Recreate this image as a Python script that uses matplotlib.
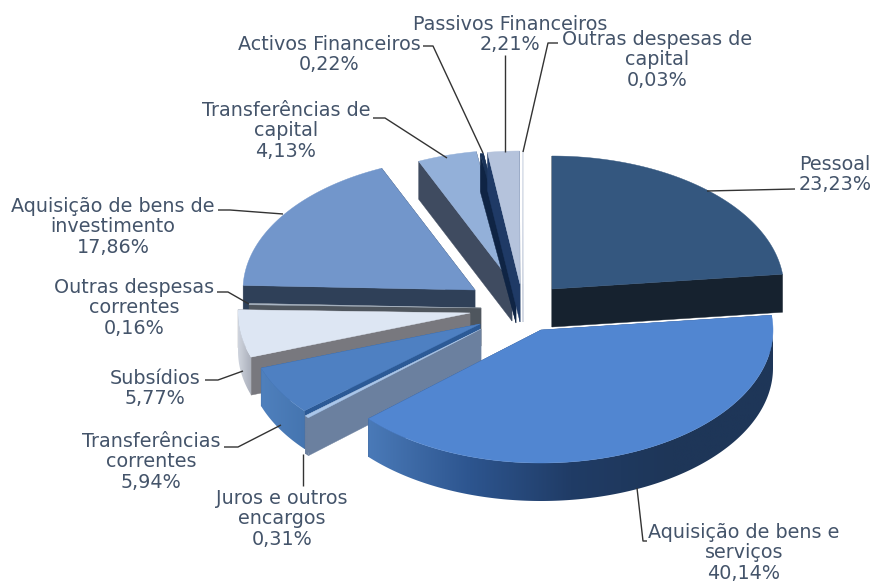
import matplotlib
matplotlib.use('Agg')
import matplotlib.pyplot as plt
import numpy as np
from matplotlib.colors import LinearSegmentedColormap
from matplotlib.patches import Polygon

# Data, in the order of the pie (clockwise from the top)
names = ['Pessoal', 'Aquisição de bens e\nserviços', 'Juros e outros\nencargos',
         'Transferências\ncorrentes', 'Subsídios', 'Outras despesas\ncorrentes',
         'Aquisição de bens de\ninvestimento', 'Transferências de\ncapital',
         'Activos Financeiros', 'Passivos Financeiros', 'Outras despesas de\ncapital']
values = [23.23, 40.14, 0.31, 5.94, 5.77, 0.16, 17.86, 4.13, 0.22, 2.21, 0.03]

# Each slice is exploded on its own: apex position in pixels
apex_x = [552, 541, 481, 480, 470, 481, 475, 512, 516, 520, 523]
apex_y = [289, 330, 329, 324, 313, 308, 290, 283, 285, 284, 284]

top_colors = ['#34577f', '#5186d1', '#a9c6ea', '#4e80c2', '#dde6f3', '#aab6c4',
              '#7296cb', '#93b0d9', '#1a3358', '#b5c3dc', '#e4e9f2']
cut_colors = ['#16222f', '#2a4a7a', '#6b809f', '#2c5a96', '#78787e', '#4f565e',
              '#2f4058', '#3f4b60', '#0f2444', '#1f3a66', '#c0c8d8']
# outer wall shades, left to right on the picture
wall_colors = [('#16222f', '#16222f'), ('#4a7ab8', '#2d558f', '#203c66', '#1e3658', '#1e3658'),
               ('#6b809f', '#6b809f'), ('#4f80bd', '#4575b0'),
               ('#d0d5de', '#a8adb9'), ('#4f565e', '#4f565e'),
               ('#2f4058', '#2f4058'), ('#3f4b60', '#3f4b60'),
               ('#0f2444', '#0f2444'), ('#2a4470', '#2a4470'),
               ('#c0c8d8', '#c0c8d8')]
draw_order = [7, 8, 9, 10, 0, 6, 5, 4, 3, 2, 1]

RX = 232
RY = 133
DEPTH = 38

# centre and first baseline of each label, then the line pitch
label_x = [835, 744, 282, 151, 155, 134, 113, 286, 329, 510, 657]
label_y = [170, 538, 504, 447, 384, 293, 212, 116, 50, 30, 45]
LINE_PITCH = 20.4

leaders = [
    [(795, 189), (707, 191)],
    [(647, 541), (643, 541), (637, 488)],
    [(303, 454), (303, 486)],
    [(224, 447), (238, 447), (281, 425)],
    [(205, 380), (218, 380), (243, 371)],
    [(217, 292), (228, 292), (249, 304)],
    [(218, 210), (230, 210), (283, 214)],
    [(373, 118), (385, 118), (447, 158)],
    [(423, 46), (433, 46), (483, 153)],
    [(505, 55), (505, 152)],
    [(558, 43), (548, 43), (523, 152)],
]

fig = plt.figure(figsize=(8.75, 5.83), dpi=100)
ax = fig.add_axes([0, 0, 1, 1])
ax.axis('off')

edges = np.radians(np.cumsum([0] + values) * 3.6)


def rim(cx, cy, angles):
    return np.column_stack([cx + RX * np.sin(angles), cy - RY * np.cos(angles)])


z = 1
for i in draw_order:
    cx, cy = apex_x[i], apex_y[i]
    a0, a1 = edges[i], edges[i + 1]
    steps = max(int(np.degrees(a1 - a0)) * 2, 2)
    angles = np.linspace(a0, a1, steps)

    # cut faces going down from the two straight edges
    for a in (a0, a1):
        p = rim(cx, cy, np.array([a]))[0]
        face = [(cx, cy), tuple(p), (p[0], p[1] + DEPTH), (cx, cy + DEPTH)]
        ax.add_patch(Polygon(face, closed=True, fc=cut_colors[i], ec=cut_colors[i], lw=0.3, zorder=z))
        z += 1

    # outer wall, only the part facing the viewer, shaded left to right
    front = angles[(angles > np.pi / 2) & (angles < 3 * np.pi / 2)]
    if len(front) > 1:
        pts = rim(cx, cy, front)
        outline = np.vstack([pts, pts[::-1] + (0, DEPTH)])
        shape = Polygon(outline, closed=True, fc='none', ec='none', transform=ax.transData)
        ax.add_patch(shape)
        cmap = LinearSegmentedColormap.from_list('wall', wall_colors[i])
        im = ax.imshow(np.linspace(0, 1, 256).reshape(1, -1), cmap=cmap, aspect='auto', zorder=z,
                       extent=(outline[:, 0].min(), outline[:, 0].max(), outline[:, 1].max(), outline[:, 1].min()))
        im.set_clip_path(shape)
        z += 1

    top = np.vstack([[(cx, cy)], rim(cx, cy, angles)])
    ax.add_patch(Polygon(top, closed=True, fc=top_colors[i], ec=top_colors[i], lw=0.3, zorder=z))
    z += 1

for line in leaders:
    xs, ys = zip(*line)
    ax.plot(xs, ys, color='#333333', lw=1.0, solid_capstyle='butt', zorder=z)

# one text per line so the pitch follows the reference
for i, name in enumerate(names):
    pct = f'{values[i]:.2f}'.replace('.', ',')
    for n, row in enumerate(f'{name}\n{pct}%'.split('\n')):
        ax.text(label_x[i], label_y[i] + n * LINE_PITCH, row, ha='center', va='baseline', zorder=z,
                color='#44546a', fontsize=13.8, family='DejaVu Sans')

ax.set_xlim(0, 875)
ax.set_ylim(583, 0)

fig.savefig('out.png', dpi=100)
plt.close(fig)
